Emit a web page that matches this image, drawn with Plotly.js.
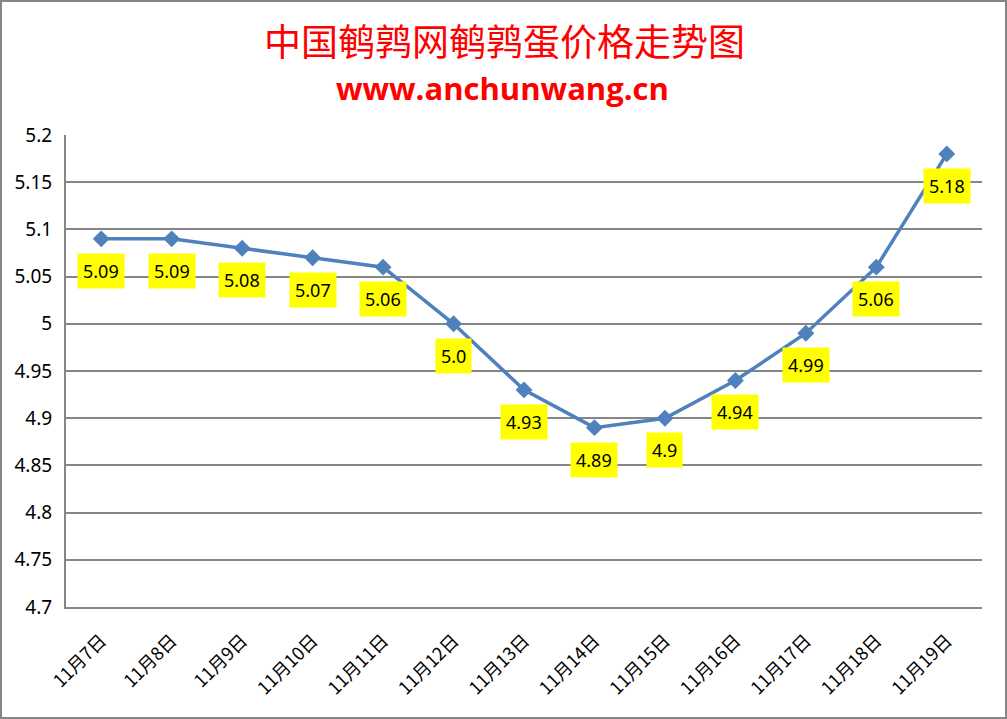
<!DOCTYPE html>
<html>
<head>
<meta charset="utf-8">
<script src="https://cdn.plot.ly/plotly-3.0.1.min.js"></script>
<style>
html,body{margin:0;padding:0;background:#fff;}
#chart{width:1007px;height:719px;box-sizing:border-box;border:2px solid #868686;}
</style>
</head>
<body>
<div id="chart"></div>
<script>
const categories = ["11月7日","11月8日","11月9日","11月10日","11月11日","11月12日","11月13日","11月14日","11月15日","11月16日","11月17日","11月18日","11月19日"];
const prices = [5.09,5.09,5.08,5.07,5.06,5.00,4.93,4.89,4.90,4.94,4.99,5.06,5.18];
const priceLabels = ["5.09","5.09","5.08","5.07","5.06","5.0","4.93","4.89","4.9","4.94","4.99","5.06","5.18"];
const yTickVals = [4.7,4.75,4.8,4.85,4.9,4.95,5,5.05,5.1,5.15,5.2];
const yTickText = ["4.7","4.75","4.8","4.85","4.9","4.95","5","5.05","5.1","5.15","5.2"];
const titleText = "中国鹌鹑网鹌鹑蛋价格走势图";
const subtitleText = "www.anchunwang.cn";

const trace = {
  x: categories,
  y: prices,
  type: "scatter",
  mode: "lines+markers",
  line: {color: "#4F81BD", width: 3.5},
  marker: {symbol: "diamond", size: 13, color: "#4F81BD"},
  hoverinfo: "x+y",
  cliponaxis: false
};

const annotations = categories.map((c, i) => ({
  x: c, y: prices[i], xref: "x", yref: "y",
  text: priceLabels[i],
  showarrow: false,
  yshift: -32,
  bgcolor: "#FFFF00",
  borderpad: 5,
  font: {family: "Noto Sans, Liberation Sans, sans-serif", size: 18, color: "#000"}
}));

annotations.push({
  xref: "paper", yref: "paper", x: 0.479, y: 1, yshift: 95, yanchor: "middle",
  text: titleText, showarrow: false,
  font: {family: "Noto Sans CJK SC, sans-serif", size: 37, color: "#FF0000"}
});
annotations.push({
  xref: "paper", yref: "paper", x: 0.477, y: 1, yshift: 47, yanchor: "middle",
  text: "<b>" + subtitleText + "</b>", showarrow: false,
  font: {family: "Open Sans, Noto Sans, sans-serif", size: 31, color: "#FF0000"}
});

const layout = {
  width: 1003, height: 715,
  margin: {l: 64, r: 23, t: 133, b: 110},
  paper_bgcolor: "#FFFFFF",
  plot_bgcolor: "#FFFFFF",
  showlegend: false,
  xaxis: {
    type: "category",
    range: [-0.5, 12.5],
    tickangle: -45,
    showgrid: false,
    showline: true, linecolor: "#868686", linewidth: 2,
    ticks: "",
    ticklabelstandoff: 14,
    tickfont: {family: "Noto Sans CJK SC, sans-serif", size: 18, color: "#000"},
    fixedrange: true
  },
  yaxis: {
    range: [4.7, 5.2],
    tickvals: yTickVals,
    ticktext: yTickText,
    showgrid: true, gridcolor: "#868686", gridwidth: 2,
    showline: true, linecolor: "#868686", linewidth: 2,
    zeroline: false,
    ticks: "",
    ticklabelstandoff: 8,
    tickfont: {family: "Noto Sans, Liberation Sans, sans-serif", size: 19, color: "#000"},
    fixedrange: true
  },
  annotations: annotations
};

Plotly.newPlot("chart", [trace], layout, {displayModeBar: false});
</script>
</body>
</html>
